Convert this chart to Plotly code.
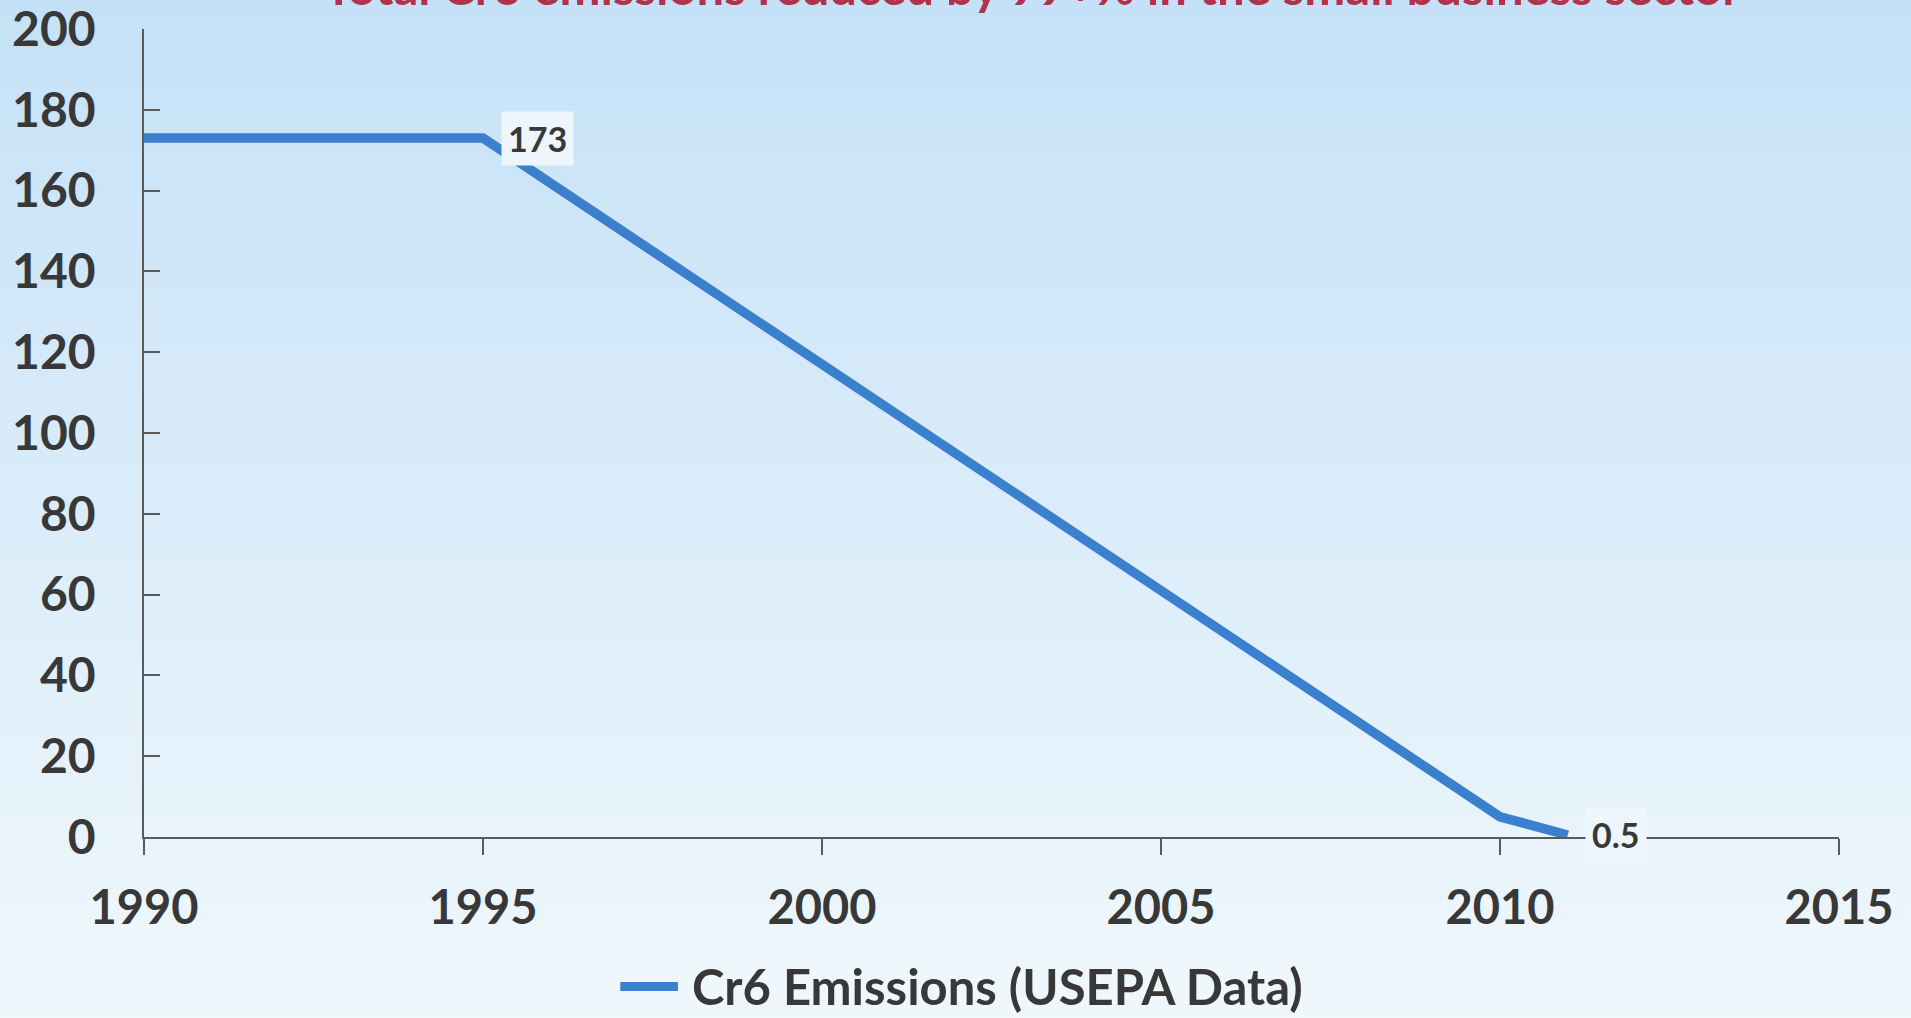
import plotly.graph_objects as go

# Cr6 emissions series
years = [1990, 1995, 2010, 2011]
emissions = [173, 173, 5, 0.5]
label_points = [(1995, 173), (2011, 0.5)]
series_name = "Cr6 Emissions (USEPA Data)"
title_text = "Total Cr6 emissions reduced by 99+% in the small business sector"

x_ticks = [1990, 1995, 2000, 2005, 2010, 2015]
y_ticks = [0, 20, 40, 60, 80, 100, 120, 140, 160, 180, 200]

FONT = "Lato"
TXT = "#383838"
LINE = "#3b7fcf"

fig = go.Figure()
fig.add_trace(go.Scatter(
    x=years, y=emissions, mode="lines", name=series_name,
    line=dict(color=LINE, width=9.5), showlegend=False,
))

# vertical background gradient, light blue at top fading to near white
top = (195, 224, 247)
bot = (242, 249, 252)
n = 100
y_lo, y_hi = -0.3, 1.1
shapes = []
for i in range(n):
    t = i / (n - 1)
    c = tuple(round(bot[k] + (top[k] - bot[k]) * t) for k in range(3))
    y0 = y_lo + (y_hi - y_lo) * i / n
    y1 = y_lo + (y_hi - y_lo) * (i + 1) / n + 0.002
    shapes.append(dict(
        type="rect", xref="paper", yref="paper", x0=-0.2, x1=1.2, y0=y0, y1=y1,
        fillcolor="rgb(%d,%d,%d)" % c, line=dict(width=0), layer="below",
    ))

# legend key: a long line swatch followed by the series name
LEG_Y = -0.185
shapes.append(dict(
    type="line", xref="paper", yref="paper", x0=0.281, x1=0.315, y0=LEG_Y, y1=LEG_Y,
    line=dict(color=LINE, width=9),
))

annotations = []
for (lx, ly), xs in zip(label_points, [54, 48]):
    annotations.append(dict(
        x=lx, y=ly, xref="x", yref="y", text=f"<b>{ly:g}</b>", showarrow=False,
        xshift=xs, yshift=0, font=dict(family=FONT, size=34, color=TXT),
        bgcolor="#eef6fd", borderpad=6,
    ))

annotations.append(dict(
    x=0.322, y=LEG_Y, xref="paper", yref="paper", text=f"<b>{series_name}</b>",
    showarrow=False, xanchor="left", yanchor="middle",
    font=dict(family=FONT, size=49, color=TXT),
))

# heading sits mostly above the visible page
annotations.append(dict(
    x=0.524, y=1.0145, xref="paper", yref="paper", text=f"<b>{title_text}</b>",
    showarrow=False, xanchor="center", yanchor="bottom",
    font=dict(family=FONT, size=49, color="#b3324b"),
))

fig.update_layout(
    width=1911, height=1018,
    margin=dict(l=144, r=72, t=29, b=181),
    paper_bgcolor="rgb(235,245,252)",
    plot_bgcolor="rgba(0,0,0,0)",
    shapes=shapes,
    annotations=annotations,
    showlegend=False,
    font=dict(family=FONT, color=TXT),
)
fig.update_xaxes(
    range=[1990, 2015], tickvals=x_ticks, ticktext=[str(v) for v in x_ticks],
    showgrid=False, zeroline=False, showline=True, linecolor="#5a5a5a", linewidth=1.5,
    ticks="outside", ticklen=16, tickcolor="#5a5a5a", tickwidth=1.5, automargin=False,
    ticklabeloverflow="allow",
    tickfont=dict(family=FONT, size=47, color=TXT, weight="bold"), ticklabelstandoff=13,
)
fig.update_yaxes(
    range=[0, 200], tickvals=y_ticks,
    showgrid=False, zeroline=False, showline=True, linecolor="#5a5a5a", linewidth=1.5,
    ticks="inside", ticklen=16, tickcolor="#5a5a5a", tickwidth=1.5, automargin=False,
    ticklabeloverflow="allow",
    tickfont=dict(family=FONT, size=48, color=TXT, weight="bold"), ticklabelstandoff=37,
)

fig.write_html("out.html")
